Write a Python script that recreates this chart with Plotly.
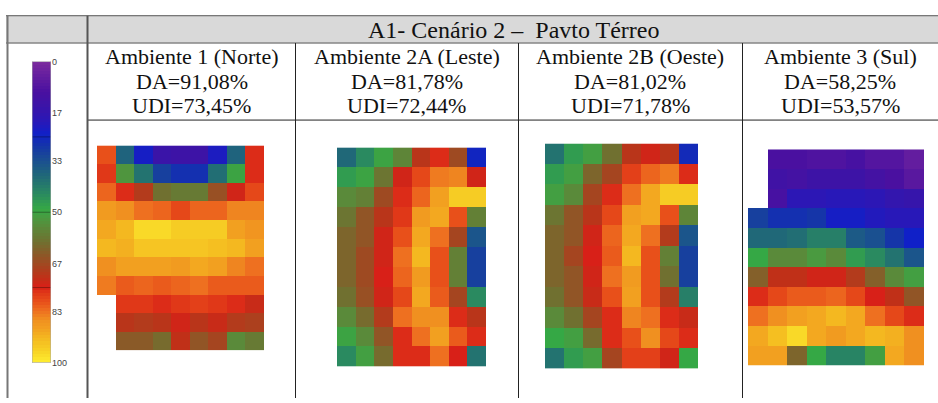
import plotly.graph_objects as go

W, H = 938, 403

title_text = "A1- Cenário 2 –  Pavto Térreo"
env_names = ["Ambiente 1 (Norte)", "Ambiente 2A (Leste)", "Ambiente 2B (Oeste)", "Ambiente 3 (Sul)"]
da_values = ["91,08%", "81,78%", "81,02%", "58,25%"]
udi_values = ["73,45%", "72,44%", "71,78%", "53,57%"]

scale_ticks = [0, 17, 33, 50, 67, 83, 100]

# Ambiente 1 (Norte) grid, 11 rows x 9 cols (None = outside room)
norte = [
    [80, 37, 23, 15, 14, 14, 22, 37, 76],
    [77, 53, 40, 30, 27, 27, 39, 50, 76],
    [82, 76, 70, 60, 58, 58, 66, 74, 79],
    [88, 86, 83, 82, 79, 82, 82, 85, 85],
    [90, 92, 97, 97, 95, 95, 95, 89, 87],
    [92, 91, 94, 94, 94, 94, 93, 92, 89],
    [86, 89, 89, 89, 88, 90, 89, 85, 83],
    [84, 81, 82, 81, 82, 83, 81, 81, 81],
    [None, 77, 77, 76, 77, 78, 77, 76, 73],
    [None, 71, 70, 71, 74, 71, 73, 70, 69],
    [None, 64, 64, 61, 72, 65, 68, 55, 58],
]

leste = [
    [38, 44, 50, 56, 71, 76, 67, 25],
    [47, 50, 59, 74, 79, 84, 85, 74],
    [55, 57, 67, 76, 82, 89, 95, 95],
    [59, 65, 71, 77, 88, 90, 80, 57],
    [62, 65, 74, 80, 90, 83, 68, 34],
    [62, 67, 74, 83, 92, 80, 57, 30],
    [62, 67, 75, 82, 88, 80, 57, 30],
    [60, 66, 74, 79, 90, 81, 68, 44],
    [55, 61, 70, 83, 86, 86, 76, 71],
    [50, 55, 65, 76, 83, 89, 81, 76],
    [44, 51, 61, 76, 76, 83, 75, 40],
]

oeste = [
    [40, 47, 51, 60, 71, 74, 71, 26],
    [47, 51, 62, 68, 78, 82, 84, 76],
    [51, 55, 68, 76, 83, 90, 95, 95],
    [59, 65, 71, 79, 89, 90, 80, 56],
    [62, 65, 74, 82, 90, 83, 70, 34],
    [62, 68, 75, 81, 92, 80, 57, 30],
    [62, 65, 74, 83, 88, 80, 60, 30],
    [60, 65, 73, 80, 89, 80, 70, 42],
    [55, 60, 68, 76, 85, 83, 76, 73],
    [49, 51, 61, 76, 80, 86, 79, 76],
    [40, 47, 51, 68, 78, 78, 74, 49],
]

sul = [
    [None, 10, 10, 9, 9, 11, 8, 8, 5],
    [None, 13, 12, 14, 14, 14, 12, 10, 7],
    [None, 11, 19, 19, 20, 20, 19, 17, 16],
    [30, 27, 27, 28, 23, 23, 21, 20, 20],
    [38, 38, 39, 42, 42, 35, 33, 28, 24],
    [49, 55, 55, 52, 55, 47, 44, 40, 34],
    [63, 72, 72, 74, 74, 70, 63, 55, 51],
    [76, 79, 81, 81, 82, 79, 75, 72, 65],
    [83, 86, 89, 90, 92, 90, 83, 79, 76],
    [90, 93, 97, 90, 88, 90, 92, 91, 86],
    [89, 89, 62, 49, 43, 43, 51, 90, 86],
]

grids = [norte, leste, oeste, sul]

cscale = [
    [0.00, "#7B2A9E"], [0.10, "#4A10A0"], [0.15, "#3A14A8"], [0.20, "#2818B8"],
    [0.24, "#1020C8"], [0.28, "#1535A8"], [0.33, "#1A5090"], [0.38, "#206878"],
    [0.44, "#2A8A60"], [0.49, "#35A845"], [0.52, "#4A9A40"], [0.55, "#5A8A3A"],
    [0.60, "#707030"], [0.64, "#8A5A28"], [0.68, "#A54520"], [0.72, "#C03018"],
    [0.75, "#D82018"], [0.77, "#E03818"], [0.80, "#E8501A"], [0.83, "#EE7020"],
    [0.86, "#F09020"], [0.89, "#F2A020"], [0.92, "#F4B820"], [0.96, "#F7D225"],
    [1.00, "#FFEE30"],
]

# pixel boxes (x0, x1, y0, y1) for each grid
boxes = [(97, 264, 144, 354), (337, 486, 146, 371), (545, 698, 142, 373), (748, 924, 148, 370)]

def px(x):
    return x / W

def py(y):
    return 1 - y / H

fig = go.Figure()
layout = dict(width=W, height=H, margin=dict(l=0, r=0, t=0, b=0),
              paper_bgcolor="white", plot_bgcolor="rgba(0,0,0,0)", showlegend=False)

# colour scale bar (axis 1)
bar_y = [i + 0.5 for i in range(100)]
fig.add_trace(go.Heatmap(x=[0], y=bar_y, z=[[v] for v in bar_y], colorscale=cscale,
                         zmin=0, zmax=100, showscale=False, hoverinfo="skip",
                         xaxis="x", yaxis="y"))
layout["xaxis"] = dict(domain=[px(32), px(51)], range=[-0.5, 0.5], visible=False, fixedrange=True)
layout["yaxis"] = dict(domain=[py(367), py(58)], range=[100, 0], side="right", anchor="x",
                       tickvals=scale_ticks, ticktext=[str(t) for t in scale_ticks],
                       ticks="", showgrid=False, zeroline=False, showline=False,
                       tickfont=dict(family="Liberation Sans", size=9, color="#444"),
                       fixedrange=True)

for i, (g, b) in enumerate(zip(grids, boxes)):
    k = i + 2
    nr, nc = len(g), len(g[0])
    fig.add_trace(go.Heatmap(z=g, x=list(range(nc)), y=list(range(nr)), colorscale=cscale,
                             zmin=0, zmax=100, showscale=False, hoverinfo="skip",
                             xaxis=f"x{k}", yaxis=f"y{k}"))
    layout[f"xaxis{k}"] = dict(domain=[px(b[0]), px(b[1])], range=[-0.5, nc - 0.5],
                               visible=False, fixedrange=True, anchor=f"y{k}")
    layout[f"yaxis{k}"] = dict(domain=[py(b[3]), py(b[2])], range=[nr - 0.5, -0.5],
                               visible=False, fixedrange=True, anchor=f"x{k}")

shapes = []
# header gray fill
shapes.append(dict(type="rect", xref="paper", yref="paper", x0=px(6), x1=px(938), y0=py(39), y1=py(11),
                   fillcolor="#D9D9D9", line=dict(width=0), layer="below"))
line_c = "#222"
def hline(y, x0, x1, c=line_c, w=1):
    shapes.append(dict(type="line", xref="paper", yref="paper", x0=px(x0), x1=px(x1), y0=py(y), y1=py(y),
                       line=dict(color=c, width=w)))
def vline(x, y0, y1, c=line_c, w=1):
    shapes.append(dict(type="line", xref="paper", yref="paper", x0=px(x), x1=px(x), y0=py(y0), y1=py(y1),
                       line=dict(color=c, width=w)))
hline(11, 6, 938, "#555")
hline(39, 6, 938, "#555")
hline(118, 88, 938)
vline(7.5, 11, 403, "#777", 2)
vline(87.5, 11, 403, "#555", 2)
for x in (295.5, 518.5, 742.5):
    vline(x, 39, 403)

# separators and frame on the colour bar
for v in (25, 50, 75):
    shapes.append(dict(type="line", xref="x", yref="y", x0=-0.5, x1=0.5, y0=v, y1=v,
                       line=dict(color="rgba(0,0,0,0.35)", width=1)))
shapes.append(dict(type="rect", xref="x", yref="y", x0=-0.5, x1=0.5, y0=0, y1=100,
                   line=dict(color="#aaa", width=1)))
layout["shapes"] = shapes

ann = []
serif = "Liberation Serif"
ann.append(dict(text=title_text, x=px(513), y=py(26), xref="paper", yref="paper", showarrow=False,
                xanchor="center", yanchor="middle", font=dict(family=serif, size=24, color="#111")))
centers = [191.5, 406.5, 630, 840]
for cx, name, da, udi in zip(centers, env_names, da_values, udi_values):
    for ty, t in ((53, name), (78, "DA=" + da), (103, "UDI=" + udi)):
        ann.append(dict(text=t, x=px(cx), y=py(ty), xref="paper", yref="paper", showarrow=False,
                        xanchor="center", yanchor="middle", font=dict(family=serif, size=22, color="#111")))
layout["annotations"] = ann

fig.update_layout(**layout)
fig.write_html("out.html", config={"displayModeBar": False},
               post_script="document.body.style.margin='0';document.body.style.overflow='hidden';")
